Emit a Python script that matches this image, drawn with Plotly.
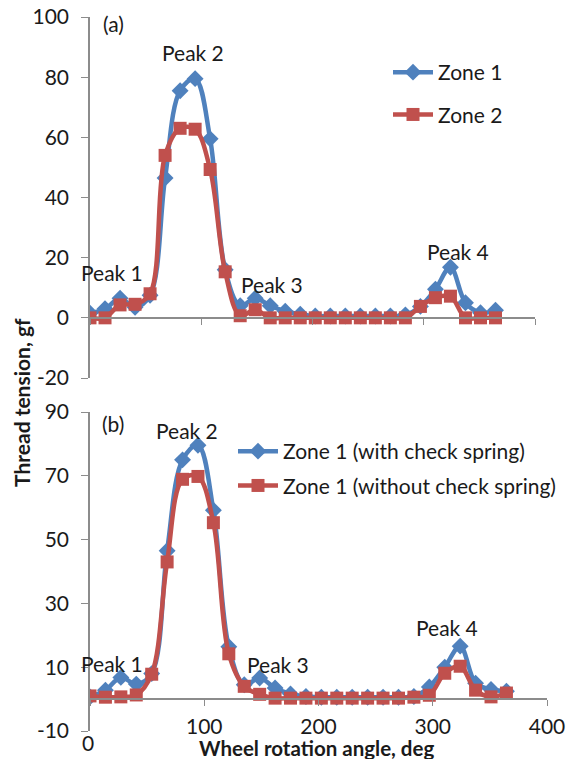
import plotly.graph_objects as go

# ---------------- data ----------------
angle = [0, 13.5, 27, 40.5, 54, 67.5, 81, 94.5, 108, 121.5, 135, 148.5, 162, 175.5,
         189, 202.5, 216, 229.5, 243, 256.5, 270, 283.5, 297, 310.5, 324, 337.5, 351, 364.5]

zone1_a = [1.5, 3, 6.5, 3.5, 7.5, 46.5, 75.5, 79.5, 59.5, 16, 4, 6.5, 4, 2.2,
           1.2, 0.6, 0.6, 0.6, 0.6, 0.6, 0.6, 1, 3.8, 9.5, 16.8, 5, 1.7, 2.5]
zone2_a = [0, 0, 4.3, 4.5, 8, 54, 63, 62.7, 49.3, 15.3, 0.7, 2.7, 0, 0,
           0, 0, 0, 0, 0, 0, 0, 0, 3.8, 6.7, 7.2, 0, 0, 0]

with_spring_b = [0.7, 2.8, 6.8, 4.7, 8, 46.5, 75, 79.6, 59.2, 16.4, 4.5, 6.6, 3.5, 1.6,
                 0.8, 0.6, 0.6, 0.6, 0.6, 0.6, 0.6, 0.8, 3.8, 10, 16.6, 5, 3, 2.5]
without_spring_b = [1.0, 0.6, 0.7, 1.3, 7.8, 43, 68.9, 69.8, 55.3, 14.2, 4, 1.5, 0.3, 0.3,
                    0.3, 0.3, 0.3, 0.3, 0.3, 0.3, 0.3, 0.6, 1.2, 8.1, 10.3, 2.8, 0.7, 1.9]

names_a = ["Zone 1", "Zone 2"]
names_b = ["Zone 1 (with check spring)", "Zone 1 (without check spring)"]

peaks_a = [("Peak 1", 20, 15), ("Peak 2", 92.6, 88.3), ("Peak 3", 163.6, 11), ("Peak 4", 331, 22)]
peaks_b = [("Peak 1", 19.3, 11.3), ("Peak 2", 85, 84.3), ("Peak 3", 164.6, 10.7), ("Peak 4", 312.5, 22.3)]

x_ticks = [0, 100, 200, 300, 400]
x_ticks_b_labels = [100, 200, 300, 400]
y_ticks_a = [-20, 0, 20, 40, 60, 80, 100]
y_text_a = ["-20", "0", "20", "40", "60", "80", "100"]
y_ticks_b = [-10, 10, 30, 50, 70, 90]
y_text_b = ["-10", "10", "30", "50", "70", "90"]

# ---------------- style ----------------
BLUE = "#4F81BD"
RED = "#C0504D"
AXIS = "#8c8c8c"
TXT = "#1a1a1a"
FONT = "Lato"
FS = 21
OFF = 0                      # page body margin removed by post_script
W, H = 566 - OFF, 759 - OFF


def py(p):
    return 1 - (p - OFF) / H


def px_x(p):
    return (p - OFF) / W


fig = go.Figure()

line_kw = dict(shape="spline", smoothing=1, width=4.5)

fig.add_trace(go.Scatter(x=angle, y=zone1_a, name=names_a[0], mode="lines+markers",
                         line=dict(color=BLUE, **line_kw),
                         marker=dict(symbol="diamond", size=13, color=BLUE),
                         xaxis="x", yaxis="y", legend="legend", legendgroup="a1"))
fig.add_trace(go.Scatter(x=angle, y=zone2_a, name=names_a[1], mode="lines+markers",
                         line=dict(color=RED, **line_kw),
                         marker=dict(symbol="square", size=13, color=RED),
                         xaxis="x", yaxis="y", legend="legend", legendgroup="a2"))
fig.add_trace(go.Scatter(x=angle, y=with_spring_b, name=names_b[0], mode="lines+markers",
                         line=dict(color=BLUE, **line_kw),
                         marker=dict(symbol="diamond", size=13, color=BLUE),
                         xaxis="x2", yaxis="y2", legend="legend2", legendgroup="b1"))
fig.add_trace(go.Scatter(x=angle, y=without_spring_b, name=names_b[1], mode="lines+markers",
                         line=dict(color=RED, **line_kw),
                         marker=dict(symbol="square", size=13, color=RED),
                         xaxis="x2", yaxis="y2", legend="legend2", legendgroup="b2"))
# empty trace so the label-only axis is created
fig.add_trace(go.Scatter(x=[], y=[], xaxis="x3", yaxis="y2", showlegend=False, hoverinfo="skip"))

dom_a_x = [px_x(90), px_x(535)]
dom_b_x = [px_x(90), px_x(547)]
dom_a_y = [py(378), py(17)]
dom_b_y = [py(731), py(412)]

tickfont = dict(family=FONT, size=FS, color=TXT)

fig.update_layout(
    template="none",
    width=W, height=H,
    margin=dict(l=0, r=0, t=0, b=0, pad=0, autoexpand=False),
    paper_bgcolor="white", plot_bgcolor="rgba(0,0,0,0)",
    font=dict(family=FONT, size=FS, color=TXT),
    xaxis=dict(domain=dom_a_x, range=[0, 400], tickvals=x_ticks, showticklabels=False,
               anchor="free", position=py(318), showline=True, linecolor=AXIS, linewidth=1.5,
               ticks="outside", ticklen=6, tickcolor=AXIS, showgrid=False, zeroline=False,
               automargin=False),
    yaxis=dict(domain=dom_a_y, range=[-20, 100], tickvals=y_ticks_a, ticktext=y_text_a,
               anchor="x", showline=True, linecolor=AXIS, linewidth=1.5, ticks="outside",
               ticklen=7, tickcolor=AXIS, showgrid=False, zeroline=False, tickfont=tickfont,
               ticklabelstandoff=8, automargin=False, ticklabeloverflow="allow"),
    xaxis2=dict(domain=dom_b_x, range=[0, 400], tickvals=x_ticks, showticklabels=False,
                anchor="free", position=py(699), showline=True, linecolor=AXIS, linewidth=1.5,
                ticks="outside", ticklen=6, tickcolor=AXIS, showgrid=False, zeroline=False,
                automargin=False),
    xaxis3=dict(domain=dom_b_x, range=[0, 400], tickvals=x_ticks_b_labels, overlaying="x2",
                anchor="free", position=py(712), showline=False, ticks="", showgrid=False,
                zeroline=False, tickfont=tickfont, automargin=False,
                ticklabeloverflow="allow"),
    yaxis2=dict(domain=dom_b_y, range=[-10, 90], tickvals=y_ticks_b, ticktext=y_text_b,
                anchor="x2", showline=True, linecolor=AXIS, linewidth=1.5, ticks="outside",
                ticklen=7, tickcolor=AXIS, showgrid=False, zeroline=False, tickfont=tickfont,
                ticklabelstandoff=8, automargin=False, ticklabeloverflow="allow"),
    legend=dict(x=px_x(388), y=py(52), xanchor="left", yanchor="top",
                bgcolor="rgba(0,0,0,0)", font=dict(family=FONT, size=FS, color=TXT),
                tracegroupgap=12, traceorder="grouped", borderwidth=0, itemwidth=40),
    legend2=dict(x=px_x(233), y=py(431), xanchor="left", yanchor="top",
                 bgcolor="rgba(0,0,0,0)", font=dict(family=FONT, size=FS, color=TXT),
                 tracegroupgap=4, traceorder="grouped", borderwidth=0, itemwidth=40),
    showlegend=True,
)

ann = []
for txt, xv, yv in peaks_a:
    ann.append(dict(text=txt, x=xv, y=yv, xref="x", yref="y", showarrow=False,
                    xanchor="center", yanchor="middle",
                    font=dict(family=FONT, size=FS, color=TXT)))
for txt, xv, yv in peaks_b:
    ann.append(dict(text=txt, x=xv, y=yv, xref="x2", yref="y2", showarrow=False,
                    xanchor="center", yanchor="middle",
                    font=dict(family=FONT, size=FS, color=TXT)))
ann.append(dict(text="(a)", x=20.7, y=97.7, xref="x", yref="y", showarrow=False,
                xanchor="center", yanchor="middle",
                font=dict(family=FONT, size=FS, color=TXT)))
ann.append(dict(text="(b)", x=20, y=86.5, xref="x2", yref="y2", showarrow=False,
                xanchor="center", yanchor="middle",
                font=dict(family=FONT, size=FS, color=TXT)))
ann.append(dict(text="0", x=0, y=py(742), xref="x2", yref="paper", showarrow=False,
                xanchor="center", yanchor="middle", xshift=-2,
                font=dict(family=FONT, size=FS, color=TXT)))
ann.append(dict(text="<b>Thread tension, gf</b>", x=px_x(21), y=py(403), xref="paper",
                yref="paper", showarrow=False, textangle=-90,
                xanchor="center", yanchor="middle",
                font=dict(family=FONT, size=21, color=TXT)))
ann.append(dict(text="<b>Wheel rotation angle, deg</b>", x=px_x(316), y=py(748),
                xref="paper", yref="paper", showarrow=False,
                xanchor="center", yanchor="middle",
                font=dict(family=FONT, size=20.5, color=TXT)))
fig.update_layout(annotations=ann)

fig.write_html("out.html",
               config={"displayModeBar": False},
               post_script="document.body.style.margin='0px';document.body.style.padding='0px';")
